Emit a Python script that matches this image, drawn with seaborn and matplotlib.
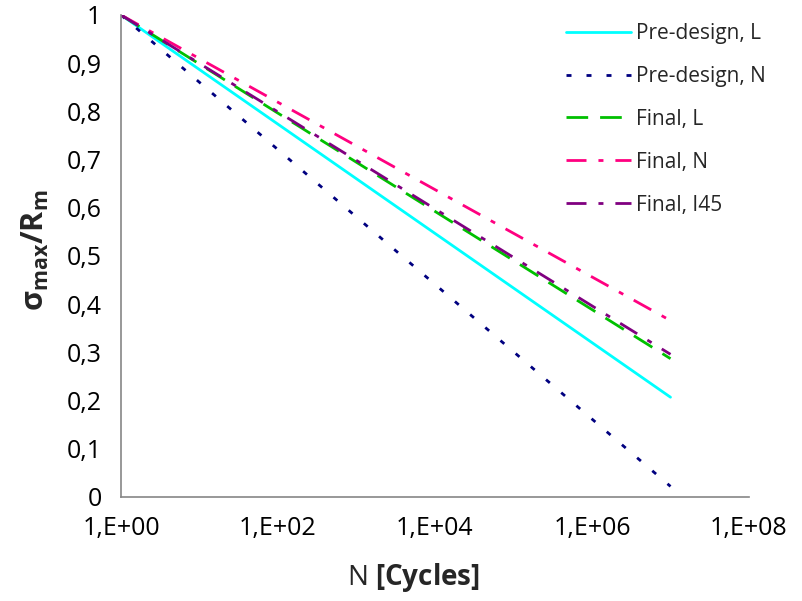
import matplotlib
matplotlib.use("Agg")
import matplotlib.pyplot as plt
import matplotlib.ticker as mticker
import numpy as np
import pandas as pd
import seaborn as sns

# values (S-N lines, straight on a log axis)
cycles = [1, 1e7]
series = ["Pre-design, L", "Pre-design, N", "Final, L", "Final, N", "Final, I45"]
pre_design_l = [1.0, 0.207]
pre_design_n = [1.0, 0.022]
final_l = [1.0, 0.287]
final_n = [1.0, 0.366]
final_i45 = [1.0, 0.296]

colors = ["#00FFFF", "#000080", "#00C000", "#FF0080", "#800080"]
dash_styles = ["", (1.8, 5.4), (7.8, 4.3), (7.2, 4.3, 1.8, 4.3), (7.2, 4.3, 1.8, 4.3)]

y_ticks = [0, 0.1, 0.2, 0.3, 0.4, 0.5, 0.6, 0.7, 0.8, 0.9, 1.0]
x_major = [1, 1e2, 1e4, 1e6, 1e8]

sns.set_style("white")
plt.rcParams["font.family"] = ["Open Sans", "DejaVu Sans"]
plt.rcParams["mathtext.fontset"] = "custom"
plt.rcParams["mathtext.rm"] = "Open Sans"
plt.rcParams["mathtext.it"] = "Open Sans"
plt.rcParams["mathtext.bf"] = "Open Sans:bold"

values = [pre_design_l, pre_design_n, final_l, final_n, final_i45]
df = pd.DataFrame({
    "N": np.tile(cycles, len(series)),
    "ratio": np.concatenate(values),
    "series": np.repeat(series, len(cycles)),
})

fig = plt.figure(figsize=(8.02, 6.01), dpi=100)
ax = fig.add_axes([121 / 802, 1 - 497 / 601, 628 / 802, 482 / 601])

sns.lineplot(data=df, x="N", y="ratio", hue="series", style="series",
             hue_order=series, style_order=series,
             palette=dict(zip(series, colors)),
             dashes=dict(zip(series, dash_styles)),
             linewidth=2.0, ax=ax)

ax.set_xscale("log")
ax.set_xlim(1, 1e8)
ax.set_ylim(0, 1)
ax.xaxis.set_major_locator(mticker.FixedLocator(x_major))
minor = [10 ** (2 * m) * k ** 2 for m in range(4) for k in range(2, 10)]
ax.xaxis.set_minor_locator(mticker.FixedLocator(minor))
ax.xaxis.set_minor_formatter(mticker.NullFormatter())
ax.xaxis.set_major_formatter(mticker.FuncFormatter(
    lambda v, p: f"1,E+{int(round(np.log10(v))):02d}"))
ax.yaxis.set_major_locator(mticker.FixedLocator(y_ticks))
ax.yaxis.set_major_formatter(mticker.FuncFormatter(
    lambda v, p: ("%g" % round(v, 1)).replace(".", ",")))

for s in ["top", "right"]:
    ax.spines[s].set_visible(False)
for s in ["left", "bottom"]:
    ax.spines[s].set_color("#868686")
    ax.spines[s].set_linewidth(1.2)
ax.tick_params(which="major", direction="out", length=6, width=1.2,
               color="#868686", labelsize=18, pad=8, labelcolor="black")
ax.tick_params(which="minor", direction="out", length=3.5, width=1.2,
               color="#868686")
ax.tick_params(axis="y", which="minor", length=0)

ax.set_xlabel(r"N $\mathbf{[Cycles]}$", fontsize=20, va="center")
ax.xaxis.set_label_coords((413 - 121) / 628, (497 - 578) / 482)
ax.set_ylabel(r"$\mathbf{\sigma_{max}/R_m}$", fontsize=22, va="center")
ax.yaxis.set_label_coords((35 - 121) / 628, (497 - 250) / 482)

ax.legend(loc="upper left", bbox_to_anchor=(566 / 802, 1 - 23 / 601),
          bbox_transform=fig.transFigure, frameon=False, fontsize=15,
          handlelength=3.1, handletextpad=0.25, labelspacing=1.05,
          borderpad=0, borderaxespad=0)

fig.savefig("out.png", dpi=100)
